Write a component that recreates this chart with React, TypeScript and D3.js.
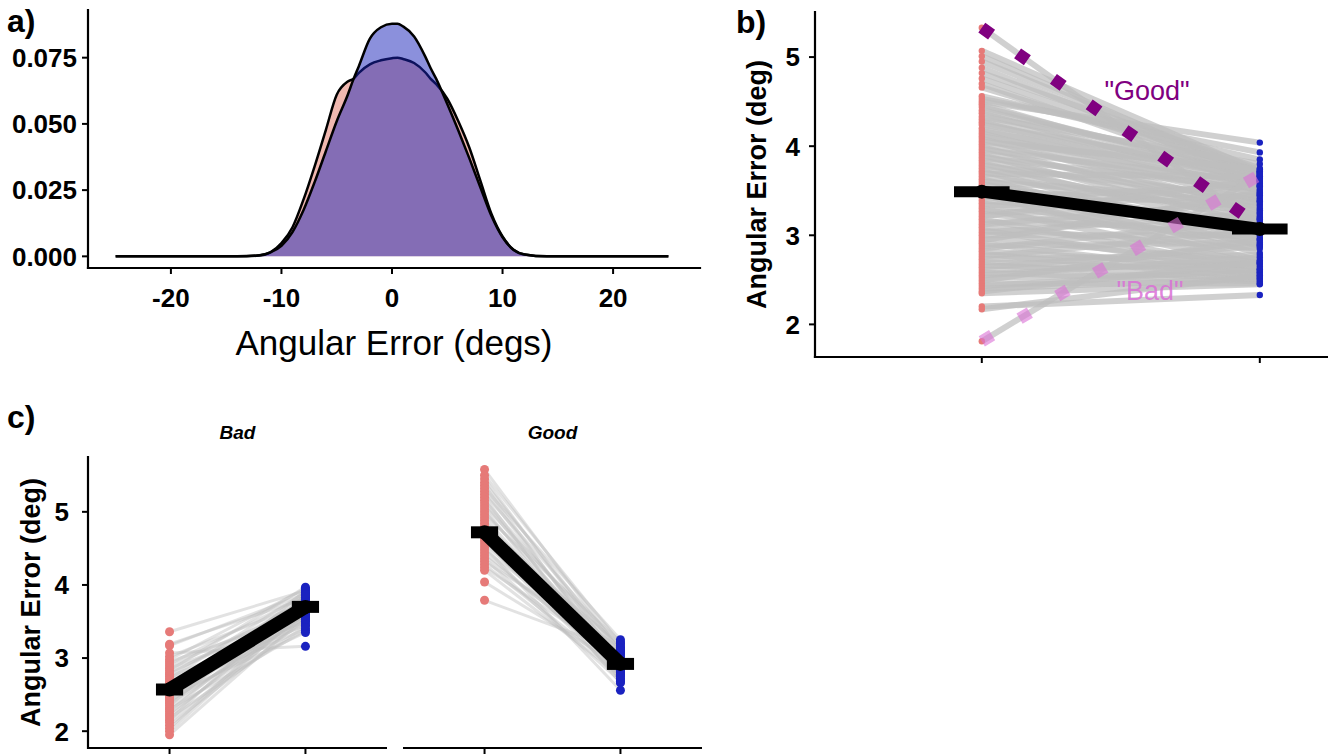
import React from 'react';
import * as d3 from 'd3';

// ---------- Panel a: density ----------
const densX = [-25, -14, -12, -11, -10, -9, -8, -7, -6, -5, -4, -3.5, -3, -2, -1, 0, 0.5, 1, 2, 3, 3.5, 4, 5, 6, 7, 8, 9, 10, 11, 12, 14, 25];
const densRed = [0, 0, 0.0003, 0.0015, 0.005, 0.011, 0.0215, 0.034, 0.0475, 0.061, 0.066, 0.067, 0.0693, 0.0725, 0.074, 0.0748, 0.075, 0.0745, 0.073, 0.0695, 0.067, 0.065, 0.0595, 0.051, 0.041, 0.0285, 0.016, 0.0075, 0.0025, 0.0007, 0, 0];
const densBlue = [0, 0, 0.0004, 0.0015, 0.004, 0.0092, 0.0175, 0.028, 0.0395, 0.051, 0.061, 0.0667, 0.0718, 0.0822, 0.0865, 0.0878, 0.0878, 0.0868, 0.083, 0.0755, 0.071, 0.067, 0.0575, 0.0475, 0.037, 0.026, 0.0152, 0.0072, 0.0024, 0.0007, 0, 0];
const aXTicks = [-20, -10, 0, 10, 20];
const aYTicks = [0, 0.025, 0.05, 0.075];

// ---------- Panel b: paired values ----------
const bCond1 = [5.33, 5.07, 5.01, 4.95, 4.88, 4.82, 4.76, 4.70, 4.66, 4.56, 4.53, 4.50, 4.47, 4.44, 4.40, 4.37, 4.33, 4.30, 4.27, 4.24, 4.20, 4.17, 4.14, 4.11, 4.08, 4.05, 4.02, 3.99, 3.96, 3.93, 3.90, 3.87, 3.84, 3.81, 3.78, 3.75, 3.72, 3.69, 3.66, 3.63, 3.60, 3.57, 3.54, 3.51, 3.48, 3.45, 3.42, 3.39, 3.36, 3.33, 3.30, 3.27, 3.24, 3.21, 3.18, 3.15, 3.12, 3.09, 3.06, 3.03, 3.00, 2.97, 2.94, 2.91, 2.88, 2.85, 2.82, 2.79, 2.76, 2.73, 2.70, 2.67, 2.64, 2.61, 2.58, 2.55, 2.52, 2.49, 2.46, 2.43, 2.40, 2.37, 2.35, 2.20, 2.17, 1.81];
const bCond2 = [3.10, 3.72, 3.66, 3.70, 3.62, 3.75, 3.68, 3.60, 3.71, 3.85, 3.93, 4.04, 3.58, 3.66, 3.72, 3.55, 3.80, 3.62, 3.50, 3.70, 3.45, 3.64, 3.38, 3.56, 3.30, 3.74, 3.47, 3.22, 3.60, 3.35, 3.12, 3.52, 3.28, 3.05, 3.42, 3.18, 2.95, 3.66, 3.25, 2.88, 3.40, 3.10, 2.80, 3.33, 3.02, 2.72, 3.55, 3.15, 2.90, 3.45, 2.68, 3.20, 2.97, 3.62, 2.62, 3.08, 3.38, 2.85, 2.58, 3.25, 3.00, 2.70, 3.48, 2.55, 2.92, 3.18, 2.65, 2.52, 3.05, 2.78, 2.60, 2.50, 2.88, 2.68, 2.48, 2.75, 2.58, 2.95, 2.46, 2.62, 2.52, 2.70, 2.45, 2.33, 2.55, 3.68];
const bMeans = [3.49, 3.07];
const goodLine = [5.33, 3.10];
const badLine = [1.81, 3.68];
const bYTicks = [2, 3, 4, 5];

// ---------- Panel c: facets ----------
const cBad1 = [3.36, 3.19, 3.17, 3.07, 3.02, 2.98, 2.95, 2.92, 2.89, 2.86, 2.83, 2.80, 2.78, 2.75, 2.72, 2.70, 2.67, 2.65, 2.62, 2.60, 2.58, 2.56, 2.54, 2.52, 2.50, 2.48, 2.46, 2.44, 2.42, 2.40, 2.38, 2.35, 2.32, 2.30, 2.27, 2.24, 2.21, 2.18, 2.15, 2.12, 2.08, 2.04, 2.00, 1.95];
const cBad2 = [3.92, 3.82, 3.88, 3.16, 3.75, 3.95, 3.60, 3.85, 3.70, 3.55, 3.97, 3.65, 3.78, 3.50, 3.90, 3.62, 3.45, 3.80, 3.72, 3.58, 3.40, 3.86, 3.68, 3.52, 3.76, 3.35, 3.64, 3.83, 3.48, 3.73, 3.56, 3.93, 3.66, 3.38, 3.79, 3.60, 3.70, 3.44, 3.87, 3.62, 3.53, 3.74, 3.68, 3.58];
const cBadMeans = [2.57, 3.70];
const cGood1 = [5.58, 5.50, 5.45, 5.40, 5.36, 5.32, 5.28, 5.24, 5.20, 5.16, 5.12, 5.08, 5.04, 5.00, 4.96, 4.92, 4.88, 4.84, 4.80, 4.76, 4.72, 4.68, 4.64, 4.60, 4.56, 4.52, 4.48, 4.44, 4.40, 4.36, 4.32, 4.28, 4.24, 4.20, 4.04, 3.79];
const cGood2 = [3.10, 3.20, 2.95, 3.05, 2.80, 3.25, 2.90, 3.15, 2.70, 3.00, 2.85, 3.12, 2.75, 2.98, 3.22, 2.88, 2.66, 3.08, 2.93, 2.78, 3.18, 2.83, 3.02, 2.72, 2.96, 2.56, 3.06, 2.87, 2.92, 2.68, 3.14, 2.81, 2.99, 2.76, 2.90, 3.10];
const cGoodMeans = [4.72, 2.92];
const cYTicks = [2, 3, 4, 5];
const facetLabels = ['Bad', 'Good'];

const SANS = "'Liberation Sans', Arial, Helvetica, sans-serif";
const RED_FILL = '#e27262';
const BLUE_FILL = '#1822ba';
const RED_PT = '#e67a78';
const BLUE_PT = '#1a22c0';
const GREY = '#bebebe';

const W = 1328;
const H = 755;

function PanelA() {
  const xA = d3.scaleLinear().domain([-27.5, 27.5]).range([88, 696]);
  const yA = d3.scaleLinear().domain([-0.0044, 0.093]).range([268, 10]);
  const area = d3.area<number>()
    .x((_, i) => xA(densX[i]))
    .y0(yA(0))
    .y1((d) => yA(d))
    .curve(d3.curveMonotoneX);
  const line = d3.line<number>()
    .x((_, i) => xA(densX[i]))
    .y((d) => yA(d))
    .curve(d3.curveMonotoneX);
  const fmt = d3.format('.3f');
  return (
    <g>
      <path d={area(densRed) || ''} fill={RED_FILL} fillOpacity={0.5} />
      <path d={line(densRed) || ''} fill="none" stroke="#000" strokeWidth={2.5} />
      <path d={area(densBlue) || ''} fill={BLUE_FILL} fillOpacity={0.5} />
      <path d={line(densBlue) || ''} fill="none" stroke="#000" strokeWidth={2.5} />
      <line x1={88} x2={88} y1={10} y2={268} stroke="#000" strokeWidth={2.2} strokeLinecap="square" />
      <line x1={88} x2={700} y1={268} y2={268} stroke="#000" strokeWidth={2.2} strokeLinecap="square" />
      {aYTicks.map((t) => (
        <g key={t}>
          <line x1={82} x2={88} y1={yA(t)} y2={yA(t)} stroke="#000" strokeWidth={2} />
          <text x={77} y={yA(t)} dy="0.36em" textAnchor="end" fontFamily={SANS} fontWeight="bold" fontSize={26}>{fmt(t)}</text>
        </g>
      ))}
      {aXTicks.map((t) => (
        <g key={t}>
          <line x1={xA(t)} x2={xA(t)} y1={268} y2={274} stroke="#000" strokeWidth={2} />
          <text x={xA(t)} y={307} textAnchor="middle" fontFamily={SANS} fontWeight="bold" fontSize={26}>{t}</text>
        </g>
      ))}
      <text x={394} y={355} textAnchor="middle" fontFamily={SANS} fontSize={35}>Angular Error (degs)</text>
      <text x={7} y={32} fontFamily={SANS} fontWeight="bold" fontSize={32}>a)</text>
    </g>
  );
}

function PanelB() {
  const xB = d3.scaleLinear().domain([0.4, 2.6]).range([815, 1426.6]);
  const yB = d3.scaleLinear().domain([1.634, 5.506]).range([357, 12]);
  return (
    <g>
      {bCond1.map((v, i) => (
        <line key={'l' + i} x1={xB(1)} y1={yB(v)} x2={xB(2)} y2={yB(bCond2[i])} stroke={GREY} strokeOpacity={0.72} strokeWidth={6} />
      ))}
      {bCond1.map((v, i) => (
        <circle key={'r' + i} cx={xB(1)} cy={yB(v)} r={3.2} fill={RED_PT} />
      ))}
      {bCond2.map((v, i) => (
        <circle key={'b' + i} cx={xB(2)} cy={yB(v)} r={3.2} fill={BLUE_PT} />
      ))}
      <line x1={xB(1)} y1={yB(bMeans[0])} x2={xB(2)} y2={yB(bMeans[1])} stroke="#000" strokeWidth={12} />
      {bMeans.map((m, i) => (
        <g key={'m' + i}>
          <line x1={xB(i + 1 - 0.1)} x2={xB(i + 1 + 0.1)} y1={yB(m)} y2={yB(m)} stroke="#000" strokeWidth={11} />
          <circle cx={xB(i + 1)} cy={yB(m)} r={7} fill="#000" />
        </g>
      ))}
      <line x1={xB(1)} y1={yB(badLine[0])} x2={xB(2)} y2={yB(badLine[1])} stroke="#da70d6" strokeOpacity={0.6} strokeWidth={12} strokeDasharray="12 32" />
      <line x1={xB(1)} y1={yB(goodLine[0])} x2={xB(2)} y2={yB(goodLine[1])} stroke="#800080" strokeWidth={12} strokeDasharray="12 32" />
      <text x={1147} y={100} textAnchor="middle" fontFamily={SANS} fontSize={27} fill="#800080">"Good"</text>
      <text x={1150} y={300} textAnchor="middle" fontFamily={SANS} fontSize={27} fill="#da70d6" fillOpacity={0.85}>"Bad"</text>
      <line x1={815} x2={815} y1={12} y2={357} stroke="#000" strokeWidth={2.2} strokeLinecap="square" />
      <line x1={815} x2={W} y1={357} y2={357} stroke="#000" strokeWidth={2.2} strokeLinecap="square" />
      {bYTicks.map((t) => (
        <g key={t}>
          <line x1={809} x2={815} y1={yB(t)} y2={yB(t)} stroke="#000" strokeWidth={2} />
          <text x={800} y={yB(t)} dy="0.36em" textAnchor="end" fontFamily={SANS} fontWeight="bold" fontSize={26}>{t}</text>
        </g>
      ))}
      {[1, 2].map((t) => (
        <line key={t} x1={xB(t)} x2={xB(t)} y1={357} y2={363} stroke="#000" strokeWidth={2} />
      ))}
      <text transform={`translate(766, ${(12 + 357) / 2}) rotate(-90)`} textAnchor="middle" fontFamily={SANS} fontWeight="bold" fontSize={27}>Angular Error (deg)</text>
      <text x={736} y={33} fontFamily={SANS} fontWeight="bold" fontSize={32}>b)</text>
    </g>
  );
}

function Facet({ x0, x1, c1, c2, means, label }: { x0: number; x1: number; c1: number[]; c2: number[]; means: number[]; label: string }) {
  const xC = d3.scaleLinear().domain([0.4, 2.6]).range([x0, x1]);
  const yC = d3.scaleLinear().domain([1.77, 5.75]).range([748, 457]);
  return (
    <g>
      {c1.map((v, i) => (
        <line key={'l' + i} x1={xC(1)} y1={yC(v)} x2={xC(2)} y2={yC(c2[i])} stroke={GREY} strokeOpacity={0.45} strokeWidth={3} />
      ))}
      {c1.map((v, i) => (
        <circle key={'r' + i} cx={xC(1)} cy={yC(v)} r={4.5} fill={RED_PT} />
      ))}
      {c2.map((v, i) => (
        <circle key={'b' + i} cx={xC(2)} cy={yC(v)} r={4.5} fill={BLUE_PT} />
      ))}
      <line x1={xC(1)} y1={yC(means[0])} x2={xC(2)} y2={yC(means[1])} stroke="#000" strokeWidth={14} />
      {means.map((m, i) => (
        <g key={'m' + i}>
          <line x1={xC(i + 1 - 0.1)} x2={xC(i + 1 + 0.1)} y1={yC(m)} y2={yC(m)} stroke="#000" strokeWidth={12} />
          <circle cx={xC(i + 1)} cy={yC(m)} r={7} fill="#000" />
        </g>
      ))}
      <line x1={x0} x2={x1} y1={748} y2={748} stroke="#000" strokeWidth={2.2} />
      {[1, 2].map((t) => (
        <line key={t} x1={xC(t)} x2={xC(t)} y1={748} y2={754} stroke="#000" strokeWidth={2} />
      ))}
      <text x={(x0 + x1) / 2} y={439} textAnchor="middle" fontFamily={SANS} fontWeight="bold" fontStyle="italic" fontSize={19}>{label}</text>
    </g>
  );
}

function PanelC() {
  const yC = d3.scaleLinear().domain([1.77, 5.75]).range([748, 457]);
  return (
    <g>
      <Facet x0={88} x1={387} c1={cBad1} c2={cBad2} means={cBadMeans} label={facetLabels[0]} />
      <Facet x0={403} x1={702} c1={cGood1} c2={cGood2} means={cGoodMeans} label={facetLabels[1]} />
      <line x1={88} x2={88} y1={457} y2={748} stroke="#000" strokeWidth={2.2} strokeLinecap="square" />
      {cYTicks.map((t) => (
        <g key={t}>
          <line x1={82} x2={88} y1={yC(t)} y2={yC(t)} stroke="#000" strokeWidth={2} />
          <text x={69} y={yC(t)} dy="0.36em" textAnchor="end" fontFamily={SANS} fontWeight="bold" fontSize={26}>{t}</text>
        </g>
      ))}
      <text transform={`translate(40, ${(457 + 748) / 2}) rotate(-90)`} textAnchor="middle" fontFamily={SANS} fontWeight="bold" fontSize={27}>Angular Error (deg)</text>
      <text x={7} y={428} fontFamily={SANS} fontWeight="bold" fontSize={32}>c)</text>
    </g>
  );
}

export default function App() {
  return (
    <svg width={W} height={H} style={{ position: 'absolute', left: 0, top: 0, background: '#fff' }}>
      <rect x={0} y={0} width={W} height={H} fill="#fff" />
      <PanelA />
      <PanelB />
      <PanelC />
    </svg>
  );
}
